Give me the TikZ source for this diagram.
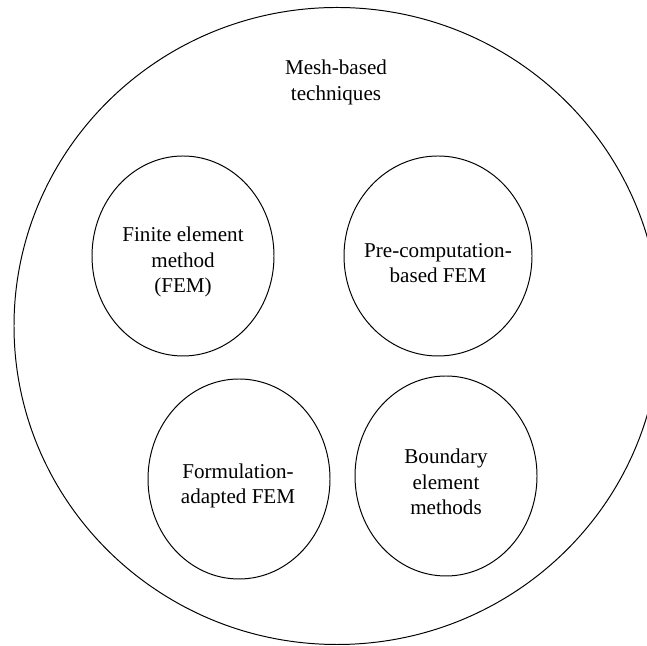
\documentclass[tikz,border=0pt]{standalone}
\usepackage{fontspec}
\setmainfont{Liberation Serif}
\usepackage{tikz}
\usetikzlibrary{positioning}

\tikzset{
  ring/.style={draw, line width=0.7pt},
  label text/.style={align=center, font=\fontsize{15}{18}\selectfont, inner sep=0pt}
}

\begin{document}
\begin{tikzpicture}
\useasboundingbox (0,0) rectangle (16.175,16.15);
\clip (0,0) rectangle (16.175,16.15);
\draw[ring] (8.425,8.0) ellipse (8.075 and 7.9625);
\node[label text] (mesh) at (8.4,14.09) {Mesh-based\\techniques};

\draw[ring] (4.575,9.75) ellipse (2.275 and 2.5);
\node[label text] (fem) at (4.575,9.6) {Finite element\\method\\(FEM)};

\draw[ring] (10.95,9.75) ellipse (2.35 and 2.5);
\node[label text] (precomp) at (10.95,9.575) {Pre-computation-\\based FEM};

\draw[ring] (5.975,4.175) ellipse (2.275 and 2.5);
\node[label text] (formul) at (5.95,4.0) {Formulation-\\adapted FEM};

\draw[ring] (11.15,4.25) ellipse (2.275 and 2.5);
\node[label text] (bem) at (11.15,4.1) {Boundary\\element\\methods};
\end{tikzpicture}
\end{document}
